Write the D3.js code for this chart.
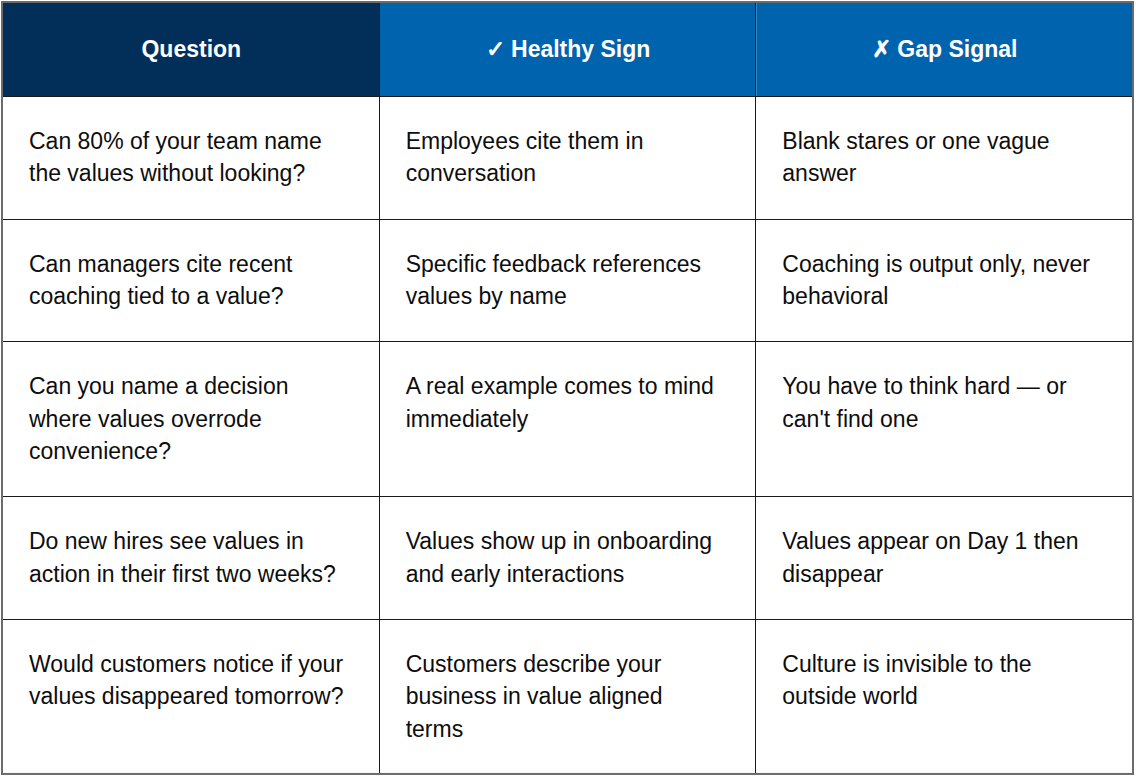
<!DOCTYPE html>
<html lang="en">
<head>
    <meta charset="UTF-8">
    <title>Values Check Table</title>
    <script src="https://d3js.org/d3.v7.min.js"></script>
    <style>
        body { margin: 0; background: #ffffff; }
    </style>
</head>
<body>

    <div id="table"></div>

    <script>
        const width = 1136, height = 778;

        // Header labels
        const columns = ["Question", "\u2713 Healthy Sign", "\u2717 Gap Signal"];
        const headerFills = ["#012f5a", "#0063ae", "#0063ae"];

        // Cell text, one entry per wrapped line as in the original
        const questions = [
            ["Can 80% of your team name", "the values without looking?"],
            ["Can managers cite recent", "coaching tied to a value?"],
            ["Can you name a decision", "where values overrode", "convenience?"],
            ["Do new hires see values in", "action in their first two weeks?"],
            ["Would customers notice if your", "values disappeared tomorrow?"]
        ];
        const healthySigns = [
            ["Employees cite them in", "conversation"],
            ["Specific feedback references", "values by name"],
            ["A real example comes to mind", "immediately"],
            ["Values show up in onboarding", "and early interactions"],
            ["Customers describe your", "business in value aligned", "terms"]
        ];
        const gapSignals = [
            ["Blank stares or one vague", "answer"],
            ["Coaching is output only, never", "behavioral"],
            ["You have to think hard \u2014 or", "can't find one"],
            ["Values appear on Day 1 then", "disappear"],
            ["Culture is invisible to the", "outside world"]
        ];

        const fontSize = 23, lineHeight = 32.33;
        const padX = 26, padY = 29;
        const headerHeight = 94;
        const tableTop = 2, tableLeft = 2, tableRight = 1133;

        const rows = questions.map((q, i) => [q, healthySigns[i], gapSignals[i]]);

        // row heights follow the tallest cell
        const rowHeights = rows.map(r => d3.max(r, c => c.length) * lineHeight + padY * 2);
        const rowTops = [];
        let acc = tableTop + headerHeight;
        rowHeights.forEach(h => { rowTops.push(acc); acc += h; });
        const tableBottom = acc;

        const x = d3.scaleBand()
                    .domain(d3.range(columns.length))
                    .range([tableLeft + 1, tableRight]);

        const svg = d3.select("#table")
                      .append("svg")
                      .attr("width", width)
                      .attr("height", height)
                      .style("font-family", "'Liberation Sans', Arial, sans-serif");

        // header cells
        svg.selectAll("rect.head")
           .data(columns)
           .join("rect")
           .attr("class", "head")
           .attr("x", (d, i) => x(i))
           .attr("y", tableTop)
           .attr("width", x.bandwidth())
           .attr("height", headerHeight)
           .attr("fill", (d, i) => headerFills[i]);

        svg.selectAll("text.head")
           .data(columns)
           .join("text")
           .attr("class", "head")
           .attr("x", (d, i) => x(i) + x.bandwidth() / 2)
           .attr("y", tableTop + 55)
           .attr("text-anchor", "middle")
           .attr("fill", "#ffffff")
           .attr("font-size", fontSize + "px")
           .attr("font-weight", "bold")
           .text(d => d);

        // body cells
        rows.forEach((r, ri) => {
            r.forEach((lines, ci) => {
                const t = svg.append("text")
                             .attr("x", x(ci) + padX)
                             .attr("y", rowTops[ri] + 53)
                             .attr("fill", "#0d0d0d")
                             .attr("font-size", fontSize + "px");
                lines.forEach((line, li) => {
                    t.append("tspan")
                     .attr("x", x(ci) + padX)
                     .attr("dy", li === 0 ? 0 : lineHeight)
                     .text(line);
                });
            });
        });

        // grid lines
        const grid = svg.append("g")
                        .attr("stroke", "#1b1b1b")
                        .attr("stroke-width", 1)
                        .attr("shape-rendering", "crispEdges");

        d3.range(1, columns.length).forEach(i => {
            grid.append("line")
                .attr("x1", Math.round(x(i)) - 0.5)
                .attr("x2", Math.round(x(i)) - 0.5)
                .attr("y1", tableTop)
                .attr("y2", tableBottom);
        });

        rowTops.forEach(y => {
            grid.append("line")
                .attr("x1", tableLeft)
                .attr("x2", tableRight)
                .attr("y1", Math.round(y) + 0.5)
                .attr("y2", Math.round(y) + 0.5);
        });

        // outer border
        svg.append("rect")
           .attr("x", tableLeft)
           .attr("y", tableTop)
           .attr("width", tableRight - tableLeft)
           .attr("height", tableBottom - tableTop)
           .attr("fill", "none")
           .attr("stroke", "#6b6b6b")
           .attr("stroke-width", 2);
    </script>

</body>
</html>
